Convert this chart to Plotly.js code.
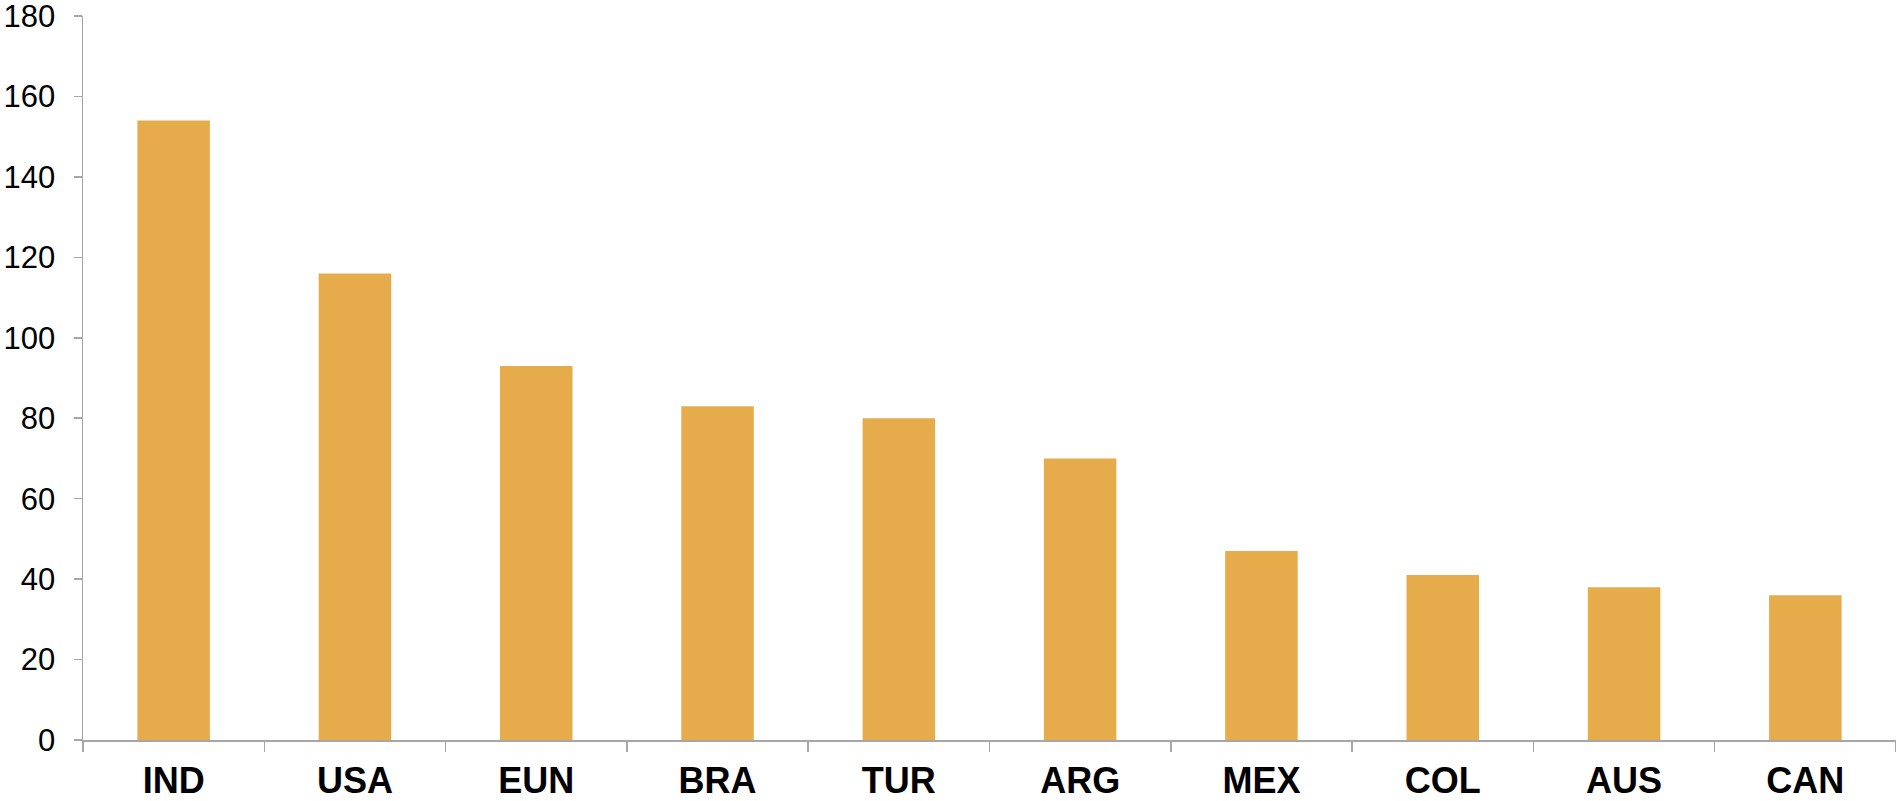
<!DOCTYPE html>
<html>
<head>
<meta charset="utf-8">
<script src="https://cdn.plot.ly/plotly-3.0.1.min.js"></script>
<style>
  html, body { margin: 0; padding: 0; background: #ffffff; }
  #chart { width: 1896px; height: 801px; }
</style>
</head>
<body>
<div id="chart"></div>
<script>
// Countries and their counts
const countries = ["IND", "USA", "EUN", "BRA", "TUR", "ARG", "MEX", "COL", "AUS", "CAN"];
const counts = [154, 116, 93, 83, 80, 70, 47, 41, 38, 36];
const yTicks = [0, 20, 40, 60, 80, 100, 120, 140, 160, 180];

const axisGrey = "#a6a6a6";

const trace = {
  type: "bar",
  x: countries,
  y: counts,
  marker: { color: "#e6ac4c", line: { width: 0 } },
  hoverinfo: "x+y"
};

const layout = {
  width: 1896,
  height: 801,
  margin: { l: 83, r: 0, t: 16, b: 61 },
  paper_bgcolor: "#ffffff",
  plot_bgcolor: "#ffffff",
  bargap: 0.6,
  showlegend: false,
  xaxis: {
    type: "category",
    showline: true,
    linecolor: axisGrey,
    linewidth: 1.5,
    ticks: "outside",
    tickson: "boundaries",
    ticklen: 10,
    tickwidth: 1.5,
    tickcolor: axisGrey,
    showgrid: false,
    zeroline: false,
    ticklabelstandoff: 8,
    ticklabeloverflow: "allow",
    tickfont: { family: "'Liberation Sans', Arial, sans-serif", size: 36, color: "#000000", weight: "bold" },
    fixedrange: true
  },
  yaxis: {
    range: [0, 180.001],
    tickvals: yTicks,
    ticktext: yTicks.map(String),
    showline: true,
    linecolor: axisGrey,
    linewidth: 1.5,
    ticks: "outside",
    ticklen: 8,
    tickwidth: 1.5,
    tickcolor: axisGrey,
    showgrid: false,
    zeroline: false,
    ticklabelstandoff: 12,
    ticklabeloverflow: "allow",
    tickfont: { family: "'Liberation Sans', Arial, sans-serif", size: 31, color: "#000000" },
    fixedrange: true
  }
};

Plotly.newPlot("chart", [trace], layout, { displayModeBar: false, staticPlot: true });
</script>
</body>
</html>
